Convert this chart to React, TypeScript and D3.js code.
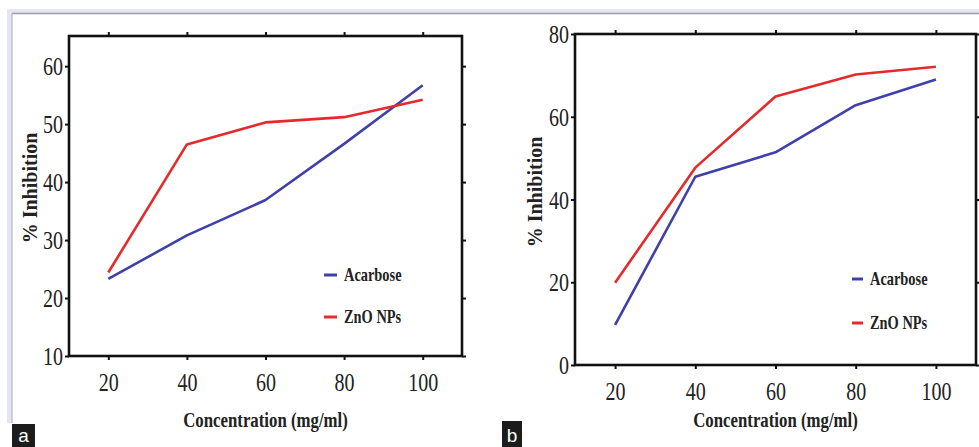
import React, { useRef, useEffect } from 'react';
import * as d3 from 'd3';

const concentrations = [20, 40, 60, 80, 100];
const xTicks = [20, 40, 60, 80, 100];

// panel a
const acarboseA = [23.3, 30.8, 36.9, 46.6, 56.7];
const znoA = [24.4, 46.5, 50.3, 51.2, 54.2];
const yTicksA = [10, 20, 30, 40, 50, 60];

// panel b
const acarboseB = [9.7, 45.5, 51.4, 62.8, 69.0];
const znoB = [19.9, 47.7, 64.9, 70.2, 72.1];
const yTicksB = [0, 20, 40, 60, 80];

const seriesNames = ['Acarbose', 'ZnO NPs'];
const seriesColors = ['#4040aa', '#e42a2c'];

const W = 979;
const H = 447;
const SERIF = 'Liberation Serif, Times New Roman, DejaVu Serif, serif';

const drawPanel = (svg, opts) => {
    const { box, xDomain, yDomain, yTicks, series, legend, yTitle, label } = opts;

    const x = d3.scaleLinear().domain(xDomain).range([box.left, box.right]);
    const y = d3.scaleLinear().domain(yDomain).range([box.bottom, box.top]);

    const g = svg.append('g');

    // mirrored outward ticks on all four sides
    g.append('g')
        .attr('transform', `translate(0,${box.bottom})`)
        .call(d3.axisBottom(x).tickValues(xTicks).tickSize(4).tickPadding(13).tickSizeOuter(0))
        .call(a => a.select('.domain').remove())
        .call(a => a.selectAll('line').attr('stroke', '#111').attr('stroke-width', 2))
        .call(a => a.selectAll('text')
            .attr('transform', 'scale(0.8,1)')
            .style('font-family', SERIF)
            .style('font-size', '25px')
            .attr('fill', '#222'));

    g.append('g')
        .attr('transform', `translate(0,${box.top})`)
        .call(d3.axisTop(x).tickValues(xTicks).tickSize(4).tickFormat(() => '').tickSizeOuter(0))
        .call(a => a.select('.domain').remove())
        .call(a => a.selectAll('line').attr('stroke', '#111').attr('stroke-width', 2));

    g.append('g')
        .attr('transform', `translate(${box.left},0)`)
        .call(d3.axisLeft(y).tickValues(yTicks).tickSize(4).tickSizeOuter(0))
        .call(a => a.select('.domain').remove())
        .call(a => a.selectAll('line').attr('stroke', '#111').attr('stroke-width', 2))
        .call(a => a.selectAll('text')
            .attr('transform', 'scale(0.8,1)')
            .attr('x', -7.5)
            .attr('dy', '0.34em')
            .style('font-family', SERIF)
            .style('font-size', '25px')
            .attr('fill', '#222'));

    g.append('g')
        .attr('transform', `translate(${box.right},0)`)
        .call(d3.axisRight(y).tickValues(yTicks).tickSize(4).tickFormat(() => '').tickSizeOuter(0))
        .call(a => a.select('.domain').remove())
        .call(a => a.selectAll('line').attr('stroke', '#111').attr('stroke-width', 2));

    g.append('rect')
        .attr('x', box.left)
        .attr('y', box.top)
        .attr('width', box.right - box.left)
        .attr('height', box.bottom - box.top)
        .attr('fill', 'none')
        .attr('stroke', '#111')
        .attr('stroke-width', 2.6);

    const line = d3.line()
        .x((d, i) => x(concentrations[i]))
        .y(d => y(d));

    series.forEach((values, i) => {
        g.append('path')
            .datum(values)
            .attr('d', line)
            .attr('fill', 'none')
            .attr('stroke', seriesColors[i])
            .attr('stroke-width', 2.6)
            .attr('stroke-linejoin', 'round');
    });

    // legend
    seriesNames.forEach((name, i) => {
        const ly = legend.y[i];
        g.append('line')
            .attr('x1', legend.x)
            .attr('x2', legend.x + legend.len)
            .attr('y1', ly)
            .attr('y2', ly)
            .attr('stroke', seriesColors[i])
            .attr('stroke-width', 3);
        g.append('text')
            .attr('transform', `translate(${legend.x + legend.len + 7},${ly + 6}) scale(0.8,1)`)
            .style('font-family', SERIF)
            .style('font-weight', 'bold')
            .style('font-size', '18px')
            .attr('fill', '#222')
            .text(name);
    });

    // axis titles
    g.append('text')
        .attr('transform', `translate(${(box.left + box.right) / 2},427) scale(0.8,1)`)
        .attr('text-anchor', 'middle')
        .style('font-family', SERIF)
        .style('font-weight', 'bold')
        .style('font-size', '21px')
        .attr('fill', '#222')
        .text('Concentration (mg/ml)');

    g.append('text')
        .attr('transform', `translate(${yTitle.x},${yTitle.y}) rotate(-90)`)
        .attr('text-anchor', 'middle')
        .style('font-family', SERIF)
        .style('font-weight', 'bold')
        .style('font-size', '20px')
        .attr('fill', '#222')
        .text('% Inhibition');

    // panel letter
    g.append('rect')
        .attr('x', label.x)
        .attr('y', label.y)
        .attr('width', label.w)
        .attr('height', H - label.y)
        .attr('fill', '#1c1c1c');
    g.append('text')
        .attr('x', label.x + label.w / 2)
        .attr('y', H - 5)
        .attr('text-anchor', 'middle')
        .style('font-family', 'Liberation Sans, Arial, sans-serif')
        .style('font-size', '19px')
        .attr('fill', '#fff')
        .text(label.text);
};

const App = () => {
    const svgRef = useRef();

    useEffect(() => {
        const svg = d3.select(svgRef.current);
        svg.selectAll('*').remove();

        svg.append('rect').attr('width', W).attr('height', H).attr('fill', '#fff');

        // outer figure frame (top and left edges)
        svg.append('rect').attr('x', 7).attr('y', 9).attr('width', W - 7).attr('height', 5).attr('fill', '#e6e6f1');
        svg.append('rect').attr('x', 7).attr('y', 9).attr('width', 5).attr('height', 414).attr('fill', '#e6e6f1');
        svg.append('line').attr('x1', 12).attr('x2', W).attr('y1', 13.5).attr('y2', 13.5)
            .attr('stroke', '#9c9cae').attr('stroke-width', 1.5);
        svg.append('line').attr('x1', 12).attr('x2', 12).attr('y1', 13.5).attr('y2', 423)
            .attr('stroke', '#b4b4c4').attr('stroke-width', 1.2);

        drawPanel(svg, {
            box: { left: 69, right: 462, top: 36, bottom: 356 },
            xDomain: [10, 110],
            yDomain: [10, 65.2],
            yTicks: yTicksA,
            series: [acarboseA, znoA],
            legend: { x: 324, len: 13, y: [275, 317] },
            yTitle: { x: 37, y: 188 },
            label: { x: 12, y: 424, w: 23, text: 'a' },
        });

        drawPanel(svg, {
            box: { left: 575, right: 976, top: 34, bottom: 365 },
            xDomain: [10, 110],
            yDomain: [0, 80],
            yTicks: yTicksB,
            series: [acarboseB, znoB],
            legend: { x: 852, len: 11, y: [279, 323] },
            yTitle: { x: 542, y: 192 },
            label: { x: 502, y: 421, w: 20, text: 'b' },
        });
    }, []);

    return (
        <svg
            ref={svgRef}
            width={W}
            height={H}
            style={{ position: 'absolute', left: 0, top: 0 }}
        ></svg>
    );
};

export default App;
